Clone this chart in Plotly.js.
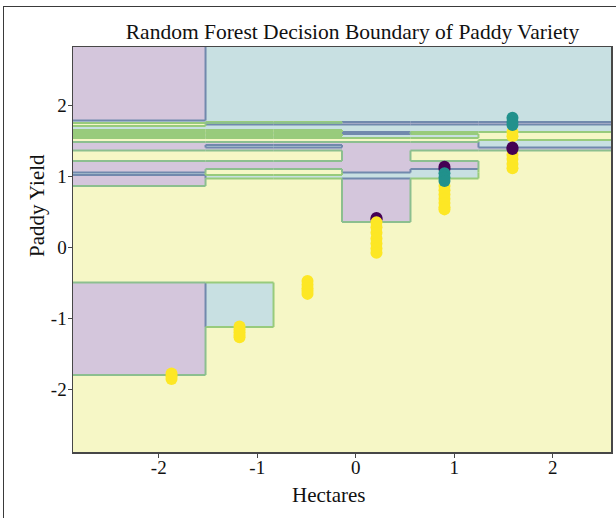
<!DOCTYPE html>
<html>
<head>
<meta charset="utf-8">
<script src="https://cdn.plot.ly/plotly-3.0.1.min.js"></script>
<style>
  html, body { margin: 0; padding: 0; background: #fff; }
  #wrap { position: relative; width: 616px; height: 518px; overflow: hidden; }
  #chart { position: absolute; left: 0; top: 0; width: 616px; height: 518px; }
  #frame { position: absolute; left: 3px; top: 6px; width: 700px; height: 600px;
           border-left: 1.5px solid #3a3a3a; border-top: 1.5px solid #3a3a3a; pointer-events: none; }
</style>
</head>
<body>
<div id="wrap"><div id="chart"></div><div id="frame"></div></div>
<script>
// Standardised hectares where the forest's splits fall (column edges)
const hectareEdges = [-2.87, -1.525, -0.835, -0.14, 0.555, 1.245, 2.59];
// Standardised paddy yield split levels, top to bottom (row edges)
const yieldEdges = [2.817, 1.782, 1.761, 1.746, 1.725, 1.704, 1.648, 1.620, 1.592, 1.563,
                    1.535, 1.507, 1.479, 1.437, 1.401, 1.359, 1.211, 1.099, 1.049, 1.014,
                    0.965, 0.859, 0.352, -0.500, -1.127, -1.803, -2.887];
// Predicted variety for every row (top to bottom) and hectare column
const predicted = [
  [0, 1, 1, 1, 1, 1],
  [1, 1, 1, 1, 1, 1],
  [1, 2, 2, 0, 0, 0],
  [2, 0, 0, 0, 0, 0],
  [2, 1, 1, 1, 1, 1],
  [1, 1, 1, 1, 1, 1],
  [2, 2, 2, 1, 1, 1],
  [1, 1, 1, 0, 2, 2],
  [2, 2, 2, 1, 1, 2],
  [1, 1, 1, 1, 1, 2],
  [2, 2, 2, 2, 2, 2],
  [2, 2, 2, 2, 2, 1],
  [0, 0, 0, 0, 0, 1],
  [0, 1, 1, 0, 0, 1],
  [0, 0, 0, 0, 0, 0],
  [2, 2, 2, 0, 2, 2],
  [0, 0, 0, 0, 0, 2],
  [0, 2, 2, 0, 1, 2],
  [1, 2, 2, 1, 1, 2],
  [0, 1, 1, 1, 1, 2],
  [0, 2, 2, 0, 2, 2],
  [2, 2, 2, 0, 2, 2],
  [2, 2, 2, 2, 2, 2],
  [0, 1, 2, 2, 2, 2],
  [0, 2, 2, 2, 2, 2],
  [2, 2, 2, 2, 2, 2]
];

// Observed samples (draw order matters where markers overlap)
const hectares = [
  -1.87, -1.87, -1.87,
  -1.18, -1.18, -1.18, -1.18, -1.18,
  -0.49, -0.49, -0.49, -0.49, -0.49,
  0.21, 0.21, 0.21, 0.21, 0.21, 0.21, 0.21, 0.21, 0.21,
  0.90, 0.90, 0.90, 0.90, 0.90, 0.90, 0.90, 0.90, 0.90, 0.90, 0.90, 0.90,
  1.59, 1.59, 1.59, 1.59, 1.59, 1.59, 1.59, 1.59, 1.59, 1.59, 1.59
];
const yields = [
  -1.78, -1.82, -1.86,
  -1.12, -1.16, -1.20, -1.24, -1.27,
  -0.48, -0.53, -0.58, -0.62, -0.66,
  0.41, 0.39, 0.35, 0.28, 0.20, 0.12, 0.05, -0.02, -0.08,
  0.86, 0.80, 0.74, 0.68, 0.62, 0.56, 0.53, 1.13, 1.10, 1.04, 0.98, 0.93,
  1.62, 1.56, 1.30, 1.24, 1.17, 1.11, 1.82, 1.76, 1.72, 1.40, 1.38
];
const variety = [
  2, 2, 2,
  2, 2, 2, 2, 2,
  2, 2, 2, 2, 2,
  0, 0, 2, 2, 2, 2, 2, 2, 2,
  2, 2, 2, 2, 2, 2, 2, 0, 0, 1, 1, 1,
  2, 2, 2, 2, 2, 2, 1, 1, 1, 0, 0
];
const xTickVals = [-2, -1, 0, 1, 2];
const xTickText = ['-2', '-1', '0', '1', '2'];
const yTickVals = [-2, -1, 0, 1, 2];
const yTickText = ['-2', '-1', '0', '1', '2'];

const markerColors = ['#440154', '#21918c', '#fde725'];
const regionScale = [[0, '#d4c6dc'], [0.5, '#c8e0e2'], [1, '#f6f7c6']];
const serif = 'Liberation Serif, Times New Roman, serif';

// Region fill: rows must run bottom-up for the heatmap
const zRows = predicted.slice().reverse();
const yAsc = yieldEdges.slice().reverse();

const regions = {
  type: 'heatmap', x: hectareEdges, y: yAsc, z: zRows,
  zmin: 0, zmax: 2, colorscale: regionScale, showscale: false,
  zsmooth: false, hoverinfo: 'skip'
};

// Boundary strokes between neighbouring cells of different class
function edgeColor(a, b) {
  if (a === 2 || b === 2) return (a === 0 || b === 0) ? '#8cbf8f' : '#98cb7c';
  return '#7189ad';
}
const edgeSets = {};
function addSeg(col, x0, y0, x1, y1) {
  if (!edgeSets[col]) edgeSets[col] = { x: [], y: [] };
  edgeSets[col].x.push(x0, x1, null);
  edgeSets[col].y.push(y0, y1, null);
}
const nR = predicted.length, nC = predicted[0].length;
for (let i = 0; i < nR; i++) {
  for (let j = 0; j < nC; j++) {
    const c = predicted[i][j];
    if (i + 1 < nR && predicted[i + 1][j] !== c) {
      addSeg(edgeColor(c, predicted[i + 1][j]), hectareEdges[j], yieldEdges[i + 1], hectareEdges[j + 1], yieldEdges[i + 1]);
    }
    if (j + 1 < nC && predicted[i][j + 1] !== c) {
      addSeg(edgeColor(c, predicted[i][j + 1]), hectareEdges[j + 1], yieldEdges[i], hectareEdges[j + 1], yieldEdges[i + 1]);
    }
  }
}
const edgeTraces = Object.keys(edgeSets).map(col => ({
  type: 'scatter', mode: 'lines', x: edgeSets[col].x, y: edgeSets[col].y,
  line: { color: col, width: 2 }, hoverinfo: 'skip', showlegend: false
}));

const samples = {
  type: 'scatter', mode: 'markers', x: hectares, y: yields,
  marker: { size: 12, color: variety.map(v => markerColors[v]), line: { width: 0 } },
  showlegend: false
};

const axisBase = {
  showgrid: false, zeroline: false, showline: true, mirror: true,
  linecolor: '#474747', linewidth: 1.5, ticks: 'outside', ticklen: 4,
  tickcolor: '#474747', tickwidth: 1, tickfont: { family: serif, size: 19, color: '#111' }
};

const layout = {
  width: 616, height: 518,
  margin: { l: 73, r: 5, t: 47, b: 66 },
  paper_bgcolor: '#fff', plot_bgcolor: '#fff',
  showlegend: false,
  title: { text: 'Random Forest Decision Boundary of Paddy Variety',
           font: { family: serif, size: 21.5, color: '#111' },
           xref: 'paper', x: 0.5195, xanchor: 'center',
           yref: 'container', y: 0.94, yanchor: 'middle' },
  xaxis: Object.assign({}, axisBase, { range: [-2.87, 2.59], tickvals: xTickVals, ticktext: xTickText,
                                       ticklabelstandoff: -6 }),
  yaxis: Object.assign({}, axisBase, { range: [-2.887, 2.817], tickvals: yTickVals, ticktext: yTickText,
                                       ticklabelstandoff: -3 }),
  annotations: [
    { text: 'Hectares', xref: 'paper', yref: 'paper', x: 0.474, y: -0.105,
      xanchor: 'center', yanchor: 'middle', showarrow: false,
      font: { family: serif, size: 21, color: '#111' } },
    { text: 'Paddy Yield', xref: 'paper', yref: 'paper', x: -0.067, y: 0.61,
      xanchor: 'center', yanchor: 'middle', showarrow: false, textangle: -90,
      font: { family: serif, size: 21, color: '#111' } }
  ]
};

Plotly.newPlot('chart', [regions].concat(edgeTraces, [samples]), layout,
               { displayModeBar: false, staticPlot: true });
</script>
</body>
</html>
